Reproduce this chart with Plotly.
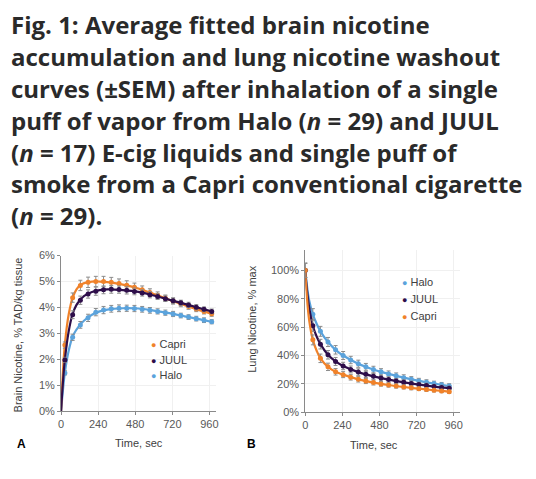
import plotly.graph_objects as go

# --- kolory serii
C_CAPRI = "#F0822A"
C_JUUL = "#2E0E4A"
C_HALO = "#5BA3DC"
ERR = "#8C8C8C"
AX = "#8A8A8A"
TXT = "#595959"

W, H = 536, 479

# --- panel A: brain nicotine (% TAD/kg tissue)
brain_t = [25, 75, 125, 175, 225, 275, 325, 375, 425, 475,
           525, 575, 625, 675, 725, 775, 825, 875, 925, 975]
brain_capri = [2.55, 4.38, 4.85, 4.97, 5.00, 5.00, 4.97, 4.92, 4.86, 4.78,
               4.68, 4.58, 4.47, 4.36, 4.25, 4.14, 4.04, 3.94, 3.85, 3.76]
brain_juul = [1.98, 3.72, 4.28, 4.52, 4.63, 4.68, 4.70, 4.69, 4.66, 4.62,
              4.56, 4.49, 4.42, 4.34, 4.26, 4.18, 4.10, 4.01, 3.93, 3.85]
brain_halo = [1.48, 2.85, 3.33, 3.60, 3.82, 3.90, 3.95, 3.97, 3.97, 3.96,
              3.93, 3.89, 3.85, 3.80, 3.75, 3.69, 3.63, 3.57, 3.51, 3.45]
brain_sem_capri = [0.12, 0.18, 0.20, 0.20, 0.20, 0.20, 0.19, 0.18, 0.17, 0.16,
                   0.15, 0.14, 0.13, 0.12, 0.12, 0.11, 0.11, 0.10, 0.10, 0.10]
brain_sem_juul = [0.10, 0.15, 0.16, 0.16, 0.16, 0.15, 0.15, 0.14, 0.14, 0.13,
                  0.12, 0.12, 0.11, 0.11, 0.10, 0.10, 0.10, 0.10, 0.09, 0.09]
brain_sem_halo = [0.08, 0.12, 0.13, 0.14, 0.14, 0.14, 0.13, 0.13, 0.12, 0.12,
                  0.11, 0.11, 0.10, 0.10, 0.10, 0.09, 0.09, 0.09, 0.09, 0.08]

# krzywe dopasowane (fit)
brain_fit_t = [0, 12, 25, 50, 75, 100, 125, 150, 200, 250, 300,
               400, 500, 600, 700, 800, 900, 980]
brain_fit_capri = [0, 1.5, 2.6, 3.75, 4.38, 4.70, 4.86, 4.94, 5.00, 5.00, 4.98,
                   4.88, 4.73, 4.52, 4.30, 4.09, 3.89, 3.75]
brain_fit_juul = [0, 1.1, 2.0, 3.1, 3.75, 4.10, 4.30, 4.45, 4.60, 4.67, 4.70,
                  4.67, 4.60, 4.46, 4.30, 4.14, 3.97, 3.84]
brain_fit_halo = [0, 0.8, 1.5, 2.35, 2.88, 3.15, 3.35, 3.50, 3.72, 3.85, 3.92,
                  3.97, 3.96, 3.88, 3.78, 3.66, 3.54, 3.44]

# --- panel B: lung nicotine (% max)
lung_t = [0, 49, 98, 147, 196, 245, 294, 343, 392, 441,
          490, 539, 588, 637, 686, 735, 784, 833, 882, 931]
lung_halo = [100, 69, 57, 49.5, 44, 40, 36.8, 34.2, 32.0, 30.1,
             28.5, 27.0, 25.7, 24.4, 23.2, 22.1, 21.1, 20.2, 19.3, 18.5]
lung_juul = [100, 61, 48, 40.5, 35.8, 32.6, 30.2, 28.3, 26.7, 25.3,
             24.1, 23.0, 22.0, 21.1, 20.3, 19.5, 18.8, 18.1, 17.5, 17.0]
lung_capri = [100, 51, 38, 32, 28.5, 26.5, 24.7, 23.2, 22.0, 20.9,
              20.0, 19.2, 18.5, 17.8, 17.2, 16.6, 16.0, 15.5, 15.0, 14.5]
lung_sem_halo = [5, 4, 3.5, 3.2, 3.0, 2.8, 2.6, 2.5, 2.4, 2.3,
                 2.2, 2.1, 2.0, 2.0, 1.9, 1.8, 1.8, 1.7, 1.7, 1.6]
lung_sem_juul = [5, 4, 3.4, 3.0, 2.8, 2.6, 2.4, 2.3, 2.2, 2.1,
                 2.0, 1.9, 1.8, 1.8, 1.7, 1.6, 1.6, 1.5, 1.5, 1.4]
lung_sem_capri = [5, 3.5, 3.0, 2.6, 2.3, 2.1, 2.0, 1.9, 1.8, 1.7,
                  1.6, 1.5, 1.5, 1.4, 1.4, 1.3, 1.3, 1.2, 1.2, 1.2]

lung_fit_t = [0, 10, 25, 49, 75, 98, 147, 196, 245, 343,
              441, 539, 637, 735, 833, 931, 945]
lung_fit_capri = [100, 82, 65, 51, 43, 38, 32, 28.5, 26.5, 23.2,
                  20.9, 19.2, 17.8, 16.6, 15.5, 14.5, 14.3]
lung_fit_juul = [100, 87, 74, 61, 53, 48, 40.5, 35.8, 32.6, 28.3,
                 25.3, 23.0, 21.1, 19.5, 18.1, 17.0, 16.8]
lung_fit_halo = [100, 90, 79, 69, 62, 57, 49.5, 44, 40, 34.2,
                 30.1, 27.0, 24.4, 22.1, 20.2, 18.5, 18.3]

x_ticks = [0, 240, 480, 720, 960]
lung_ticks = [0, 20, 40, 60, 80, 100]

title_lines = [
    "Fig. 1: Average fitted brain nicotine",
    "accumulation and lung nicotine washout",
    "curves (±SEM) after inhalation of a single",
    "puff of vapor from Halo (<i>n</i> = 29) and JUUL",
    "(<i>n</i> = 17) E-cig liquids and single puff of",
    "smoke from a Capri conventional cigarette",
    "(<i>n</i> = 29).",
]


def px(x):
    return x / W


def py(y):
    return 1 - y / H


fig = go.Figure()


def add_series(t, y, sem, fit_t, fit_y, color, xa, ya):
    fig.add_trace(go.Scatter(
        x=fit_t, y=fit_y, mode="lines", line=dict(color=color, width=2.2, shape="spline"),
        xaxis=xa, yaxis=ya, showlegend=False, hoverinfo="skip"))
    fig.add_trace(go.Scatter(
        x=t, y=y, mode="markers", marker=dict(color=color, size=5),
        error_y=dict(type="data", array=sem, color=ERR, thickness=1, width=2),
        xaxis=xa, yaxis=ya, showlegend=False))


add_series(brain_t, brain_halo, brain_sem_halo, brain_fit_t, brain_fit_halo, C_HALO, "x", "y")
add_series(brain_t, brain_capri, brain_sem_capri, brain_fit_t, brain_fit_capri, C_CAPRI, "x", "y")
add_series(brain_t, brain_juul, brain_sem_juul, brain_fit_t, brain_fit_juul, C_JUUL, "x", "y")

add_series(lung_t, lung_halo, lung_sem_halo, lung_fit_t, lung_fit_halo, C_HALO, "x2", "y2")
add_series(lung_t, lung_juul, lung_sem_juul, lung_fit_t, lung_fit_juul, C_JUUL, "x2", "y2")
add_series(lung_t, lung_capri, lung_sem_capri, lung_fit_t, lung_fit_capri, C_CAPRI, "x2", "y2")

axis_common = dict(
    showline=True, linecolor=AX, linewidth=1, ticks="outside", ticklen=3,
    tickcolor=AX, showgrid=True, gridcolor="#F0F0F0", zeroline=False,
    tickfont=dict(family="Liberation Sans, Arial", size=11, color=TXT),
    fixedrange=True,
)

fig.update_layout(
    width=W, height=H,
    margin=dict(l=0, r=0, t=0, b=0),
    paper_bgcolor="white", plot_bgcolor="white",
    showlegend=False,
    xaxis=dict(domain=[px(58.7), px(215)], range=[0, 1000],
               tickvals=x_ticks, anchor="y", **axis_common),
    yaxis=dict(domain=[py(415.7), py(256)], range=[0, 6], dtick=1,
               ticksuffix="%", anchor="x", **axis_common),
    xaxis2=dict(domain=[px(305.7), px(462)], range=[0, 1000],
                tickvals=x_ticks, anchor="y2", **axis_common),
    yaxis2=dict(domain=[py(416.7), py(250)], range=[0, 114.5],
                tickvals=lung_ticks, ticktext=[f"{v}%" for v in lung_ticks],
                anchor="x2", **axis_common),
)

ann = []
# tytuł – osobne linie, żeby kontrolować odstępy
for i, line in enumerate(title_lines):
    ann.append(dict(
        text=line, xref="paper", yref="paper", x=px(6), y=py(19 + i * 32.7),
        xanchor="left", yanchor="middle", showarrow=False, align="left",
        font=dict(family="Open Sans", size=24, color="#2A2A2A", weight="bold")))

lab_font = dict(family="Liberation Sans, Arial", size=11, color="#404040")
ann += [
    dict(text="Time, sec", x=px(137.5), y=py(448.5), font=lab_font),
    dict(text="Time, sec", x=px(375), y=py(450.5), font=lab_font),
    dict(text="Brain Nicotine, % TAD/kg tissue", x=px(15), y=py(337), textangle=-90, font=lab_font),
    dict(text="Lung Nicotine, % max", x=px(251.7), y=py(321), textangle=-90, font=lab_font),
    dict(text="<b>A</b>", x=px(19), y=py(449), font=dict(family="Liberation Sans, Arial", size=12, color="black")),
    dict(text="<b>B</b>", x=px(251), y=py(449), font=dict(family="Liberation Sans, Arial", size=12, color="black")),
]

# legendy jako tekst
legend_a = [("Capri", C_CAPRI, 346.7), ("JUUL", C_JUUL, 362.7), ("Halo", C_HALO, 378.7)]
legend_b = [("Halo", C_HALO, 282.7), ("JUUL", C_JUUL, 300.7), ("Capri", C_CAPRI, 318.3)]
for items, x0 in ((legend_a, 148), (legend_b, 401.5)):
    for name, col, yy in items:
        ann.append(dict(
            text=f'<span style="color:{col}; font-size:9px">●</span> {name}',
            x=px(x0), y=py(yy), xanchor="left", font=lab_font))

for a in ann:
    a.setdefault("xref", "paper")
    a.setdefault("yref", "paper")
    a.setdefault("showarrow", False)
    a.setdefault("xanchor", "center")
    a.setdefault("yanchor", "middle")

fig.update_layout(annotations=ann)

# bez marginesu strony, żeby wykres leżał od (0,0)
fig.write_html("out.html", config={"displayModeBar": False},
               post_script="document.body.style.margin='0';")
